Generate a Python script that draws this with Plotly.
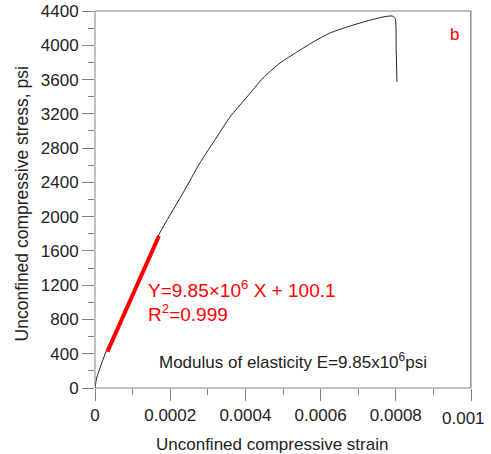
import plotly.graph_objects as go

strain = [0.0, 0.0000045, 0.000031, 0.000100, 0.000170, 0.000234, 0.000279, 0.000324,
          0.000359, 0.000404, 0.000447, 0.000492, 0.000537, 0.000580, 0.000625,
          0.000670, 0.000723, 0.000766, 0.000790, 0.000798, 0.000801, 0.000803]
stress = [0, 117, 443, 1085, 1790, 2276, 2626, 2929,
          3163, 3396, 3618, 3793, 3921, 4038, 4143,
          4213, 4283, 4330, 4342, 4318, 3945, 3571]

fit_strain = [0.000033, 0.000170]
slope = 9.85e6
intercept = 100.1
fit_stress = [slope * x + intercept for x in fit_strain]

x_ticks = [0, 0.0002, 0.0004, 0.0006, 0.0008, 0.001]
x_tick_labels = ["0", "0.0002", "0.0004", "0.0006", "0.0008", ""]
last_x_label = "0.001"
y_ticks = list(range(0, 4401, 400))

fig = go.Figure()
fig.add_trace(go.Scatter(x=strain, y=stress, mode="lines",
                         line=dict(color="#222222", width=1, shape="spline", smoothing=0.6),
                         showlegend=False))
fig.add_trace(go.Scatter(x=fit_strain, y=fit_stress, mode="lines",
                         line=dict(color="#ff0000", width=4), showlegend=False))

font = "Liberation Sans, Arial, sans-serif"
axis_common = dict(showgrid=False, zeroline=False, showline=False, mirror=False,
                   ticks="outside", ticklen=12, tickcolor="#808080", automargin=False,
                   tickfont=dict(family=font, size=17, color="#222222"))
fig.update_layout(
    width=491, height=454,
    margin=dict(l=95, r=20, t=11, b=66),
    paper_bgcolor="white", plot_bgcolor="white",
    font=dict(family=font, size=17, color="#222222"),
    xaxis=dict(range=[0, 0.001], tickvals=x_ticks, ticktext=x_tick_labels,
               minor=dict(dtick=0.0001, ticks="outside", ticklen=6, tickcolor="#808080"),
               **axis_common),
    yaxis=dict(range=[0, 4400], tickvals=y_ticks,
               minor=dict(dtick=200, ticks="outside", ticklen=6, tickcolor="#808080"),
               **axis_common),
)

# plot frame
fig.add_shape(type="rect", xref="paper", yref="paper", x0=0, y0=0, x1=1, y1=1,
              line=dict(color="#808080", width=1), layer="above")
# explicit right border at the axis end
fig.add_shape(type="line", xref="x", yref="paper", x0=0.001, x1=0.001, y0=0, y1=1,
              line=dict(color="#808080", width=1.3), layer="above")

# last x tick label (kept inside the page)
fig.add_annotation(x=0.000981, y=-0.082, xref="x", yref="paper", xanchor="center",
                   yanchor="middle", text=last_x_label, showarrow=False,
                   font=dict(family=font, size=17, color="#222222"))

fig.add_annotation(x=0.472, y=-0.151, xref="paper", yref="paper", xanchor="center",
                   yanchor="middle", text="Unconfined compressive strain", showarrow=False,
                   font=dict(family=font, size=17, color="#222222"))
fig.add_annotation(x=-0.194, y=0.487, xref="paper", yref="paper", xanchor="center",
                   yanchor="middle", textangle=-90,
                   text="Unconfined compressive stress, psi", showarrow=False,
                   font=dict(family=font, size=17.5, color="#222222"))

fig.add_annotation(x=0.000136, y=1155, xref="x", yref="y", xanchor="left", yanchor="middle",
                   text="Y=9.85×10<sup>6</sup> X + 100.1", showarrow=False,
                   font=dict(family=font, size=19, color="#ff0000"))
fig.add_annotation(x=0.000136, y=870, xref="x", yref="y", xanchor="left", yanchor="middle",
                   text="R<sup>2</sup>=0.999", showarrow=False,
                   font=dict(family=font, size=19, color="#ff0000"))
fig.add_annotation(x=0.000165, y=315, xref="x", yref="y", xanchor="left", yanchor="middle",
                   text="Modulus of elasticity E=9.85x10<sup>6</sup>psi", showarrow=False,
                   font=dict(family=font, size=17, color="#222222"))
fig.add_annotation(x=0.000957, y=4120, xref="x", yref="y", xanchor="center", yanchor="middle",
                   text="b", showarrow=False,
                   font=dict(family=font, size=17, color="#ff0000"))

fig.write_html("out.html", config={"displayModeBar": False},
               post_script="document.body.style.margin='0';")
